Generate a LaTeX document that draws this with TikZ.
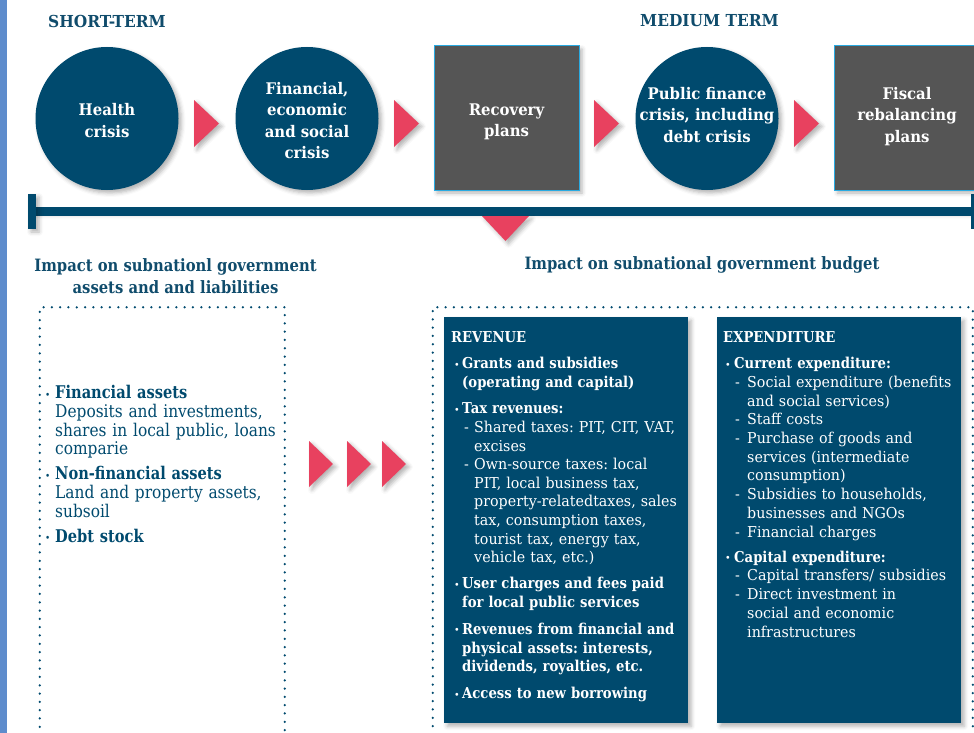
\documentclass[tikz,border=0pt]{standalone}
\usepackage{fontspec}
\setmainfont{DejaVu Serif}[FakeStretch=0.88]
% narrowed slab-like families for the different text roles
\newfontfamily\boxfam{DejaVu Serif}[UprightFeatures={FakeStretch=0.95}, BoldFeatures={FakeStretch=0.88}]
\newfontfamily\leftfam{DejaVu Serif}[UprightFeatures={FakeStretch=0.88}, BoldFeatures={FakeStretch=0.835}]
\newfontfamily\circfam{DejaVu Serif}[FakeStretch=0.93]
\newfontfamily\headfam{DejaVu Serif}[FakeStretch=0.87]
\newfontfamily\termfam{DejaVu Serif}[FakeStretch=0.935]
\usetikzlibrary{shadows.blur}

\definecolor{navy}{RGB}{0,74,110}
\definecolor{headblue}{RGB}{16,76,108}
\definecolor{accentred}{RGB}{232,65,95}
\definecolor{plangray}{RGB}{85,85,85}
\definecolor{edgeblue}{RGB}{41,170,225}
\definecolor{sidebar}{RGB}{94,140,204}

% fonts
\newcommand{\fntCircle}{\circfam\fontsize{16}{21.5}\selectfont\bfseries}
\newcommand{\fntTerm}{\termfam\fontsize{16.5}{20}\selectfont\bfseries}
\newcommand{\fntSub}{\headfam\fontsize{17}{22}\selectfont\bfseries}
\newcommand{\fntLeft}{\leftfam\fontsize{17.5}{18.6}\selectfont\frenchspacing}
\newcommand{\fntRev}{\boxfam\fontsize{15}{18.6}\selectfont\frenchspacing}
\newcommand{\fntExp}{\boxfam\fontsize{15}{18.7}\selectfont\frenchspacing}

% list helpers: #1 lead space, #2 hanging indent, #3 text
\newcommand{\smallbul}{\raisebox{0.5pt}{\fontsize{10}{10}\selectfont\textbullet}}
\newcommand{\bpt}[3]{\par\hangindent=#2\hangafter=1\noindent\makebox[#2][l]{\hspace{#1}\smallbul}#3}
\newcommand{\dpt}[3]{\par\hangindent=#2\hangafter=1\noindent\makebox[#2][l]{\hspace{#1}-}#3}
\newcommand{\gap}[1]{\par\vspace{#1}}

\begin{document}
\begin{tikzpicture}[x=1pt,y=-1pt,
  shad/.style={blur shadow={shadow xshift=3pt, shadow yshift=-3pt,
      shadow blur radius=4pt, shadow opacity=30}},
  circ/.style={circle, fill=navy, minimum size=143pt, inner sep=0pt, shad},
  plan/.style={rectangle, fill=plangray, draw=edgeblue, line width=1pt,
      minimum width=145pt, minimum height=144pt, inner sep=0pt, shad},
  stagetext/.style={inner sep=0pt, text=white, align=center, font=\fntCircle},
  termlabel/.style={anchor=west, inner sep=0pt, text=headblue, font=\fntTerm},
  subhead/.style={inner sep=0pt, text=headblue, align=center, font=\fntSub},
  dotframe/.style={draw=navy, line width=2.5pt, line cap=round,
      dash pattern=on 0pt off 8.3pt, rectangle, anchor=north west, inner sep=0pt},
  listbox/.style={rectangle, fill=navy, anchor=north west, inner sep=0pt,
      minimum width=244pt, minimum height=406pt, shad},
  listtext/.style={anchor=north west, inner sep=0pt, text width=270pt,
      align=left},
  rtri/.pic={\fill[accentred, shad] (-25,-23.5) -- (0,0) -- (-25,23.5) -- cycle;},
  rtrs/.pic={\fill[accentred, shad] (-24,-23) -- (0,0) -- (-24,23) -- cycle;},
  dtri/.pic={\fill[accentred, shad] (-23.5,0) -- (23.5,0) -- (0,25) -- cycle;}
]
\useasboundingbox (0,0) rectangle (974,733);
\clip (0,0) rectangle (974,733);

% left side bar
\fill[sidebar] (0,0) rectangle (7,733);

% period labels
\node[termlabel] (short) at (48,21) {SHORT-TERM};
\node[termlabel] (medium) at (640,21) {MEDIUM TERM};

% timeline
\coordinate (tlL) at (32,211.5);
\coordinate (tlR) at (974,211.5);
\draw[navy, line width=9pt, shad] (tlL) -- (tlR);
\fill[navy, shad] (28,194) rectangle (36,229);
\fill[navy] (971,194) rectangle (979,229);
\pic at (505.5,216) {dtri};

% stages
\node[circ] (health) at (107,118.5) {};
\node[circ] (fincrisis) at (307,118.5) {};
\node[plan] (recovery) at (506.5,118) {};
\node[circ] (public) at (707,118.5) {};
\node[plan, anchor=west] (fiscal) at (834,118) {};

\node[stagetext] (healthtxt) at ([yshift=-2pt]health.center) {Health\\crisis};
\node[stagetext] (fintxt) at ([yshift=-2pt]fincrisis.center) {Financial,\\economic\\and social\\crisis};
\node[stagetext] (rectxt) at ([yshift=-4pt]recovery.center) {Recovery\\plans};
\node[stagetext] (pubtxt) at ([yshift=3.5pt]public.center) {Public finance\\crisis, including\\debt crisis};
\node[stagetext] (fistxt) at ([yshift=1.5pt]fiscal.center) {Fiscal\\rebalancing\\plans};

\pic at (219,123.5) {rtri};
\pic at (419,123.5) {rtri};
\pic at (619,123.5) {rtri};
\pic at (819,123.5) {rtri};

% section headings
\node[subhead] (hassets) at (175.5,276) {Impact on subnationl government\\assets and and liabilities};
\node[subhead] (hbudget) at (702,265) {Impact on subnational government budget};

% frames
\node[dotframe, minimum width=245pt, minimum height=460pt] (assetframe) at (38.5,306) {};
\node[dotframe, minimum width=540pt, minimum height=460pt] (budgetframe) at (431.5,306) {};

% assets list
\node[listtext, text=navy, font=\fntLeft] (assets) at (44,380) {%
\bpt{1pt}{11pt}{\textbf{Financial assets}\newline Deposits and investments,\newline shares in local public, loans\newline comparie}%
\gap{6.6pt}%
\bpt{1pt}{11pt}{\textbf{Non-financial assets}\newline Land and property assets,\newline subsoil}%
\gap{6.6pt}%
\bpt{1pt}{11pt}{\textbf{Debt stock}}\par};

\pic at (333,464) {rtrs};
\pic at (371,464) {rtrs};
\pic at (406,464) {rtrs};

% budget boxes
\node[listbox] (revbox) at (444,317) {};
\node[listbox] (expbox) at (717,317) {};

\node[listtext, text=white, font=\fntRev] (revtext) at (451,331.5) {%
\textbf{REVENUE}%
\gap{7.4pt}%
\bpt{3pt}{11pt}{\textbf{Grants and subsidies\newline(operating and capital)}}%
\gap{8pt}%
\bpt{3pt}{11pt}{\textbf{Tax revenues:}}%
\dpt{13pt}{23pt}{Shared taxes: PIT, CIT, VAT,\newline excises}%
\dpt{13pt}{23pt}{Own-source taxes: local\newline PIT, local business tax,\newline property-relatedtaxes, sales\newline tax, consumption taxes,\newline tourist tax, energy tax,\newline vehicle tax, etc.)}%
\gap{7.5pt}%
\bpt{3pt}{11pt}{\textbf{User charges and fees paid\newline for local public services}}%
\gap{8.5pt}%
\bpt{3pt}{11pt}{\textbf{Revenues from financial and\newline physical assets: interests,\newline dividends, royalties, etc.}}%
\gap{8.5pt}%
\bpt{3pt}{11pt}{\textbf{Access to new borrowing}}\par};

\node[listtext, text=white, font=\fntExp] (exptext) at (723,331.5) {%
\textbf{EXPENDITURE}%
\gap{7.4pt}%
\bpt{2pt}{11pt}{\textbf{Current expenditure:}}%
\dpt{12pt}{24pt}{Social expenditure (benefits\newline and social services)}%
\dpt{12pt}{24pt}{Staff costs}%
\dpt{12pt}{24pt}{Purchase of goods and\newline services (intermediate\newline consumption)}%
\dpt{12pt}{24pt}{Subsidies to households,\newline businesses and NGOs}%
\dpt{12pt}{24pt}{Financial charges}%
\gap{6.5pt}%
\bpt{2pt}{11pt}{\textbf{Capital expenditure:}}%
\dpt{12pt}{24pt}{Capital transfers/ subsidies}%
\dpt{12pt}{24pt}{Direct investment in\newline social and economic\newline infrastructures}\par};

\end{tikzpicture}
\end{document}
